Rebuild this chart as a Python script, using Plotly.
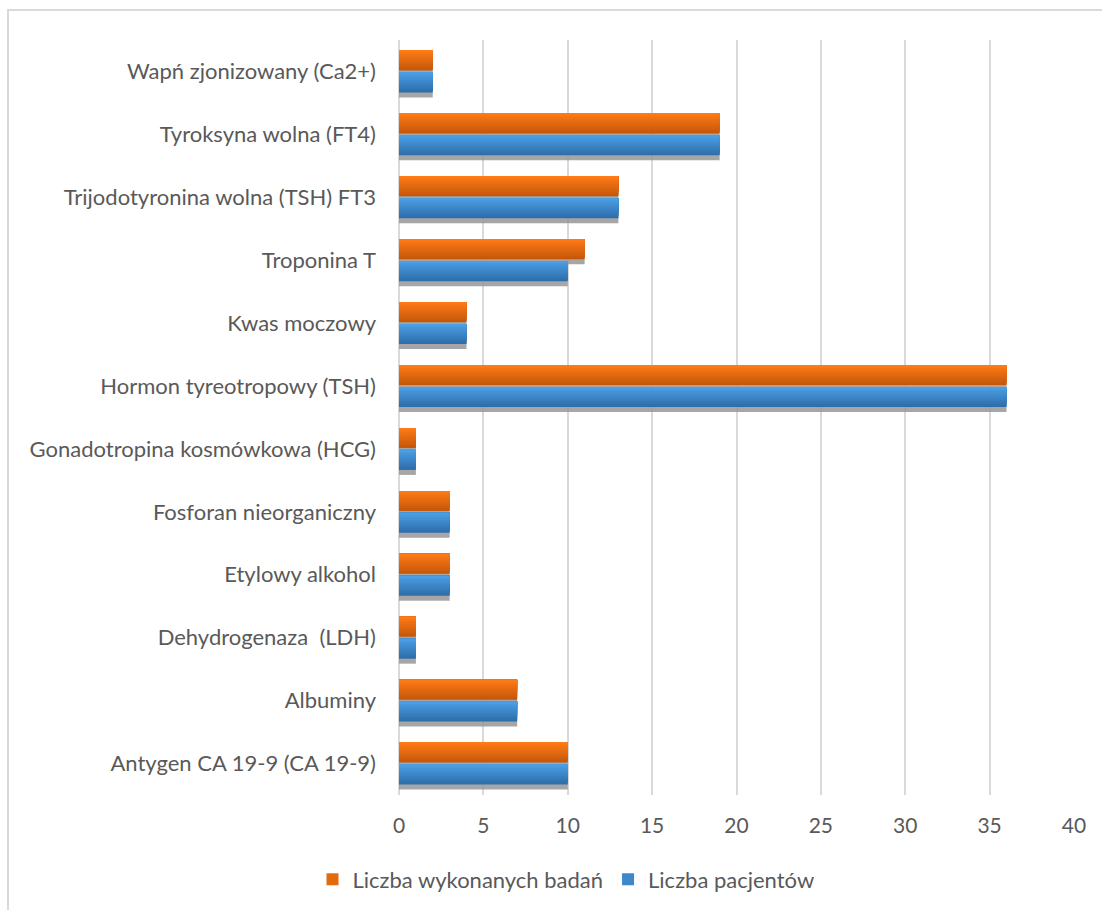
import plotly.graph_objects as go

# Laboratory tests: number of tests performed vs. number of patients
categories = [
    "Antygen CA 19-9 (CA 19-9)",
    "Albuminy",
    "Dehydrogenaza\u00a0 (LDH)",
    "Etylowy alkohol",
    "Fosforan nieorganiczny",
    "Gonadotropina kosmówkowa (HCG)",
    "Hormon tyreotropowy (TSH)",
    "Kwas moczowy",
    "Troponina T",
    "Trijodotyronina wolna (TSH) FT3",
    "Tyroksyna wolna (FT4)",
    "Wapń zjonizowany (Ca2+)",
]
liczba_badan = [10, 7, 1, 3, 3, 1, 36, 4, 11, 13, 19, 2]
liczba_pacjentow = [10, 7, 1, 3, 3, 1, 36, 4, 10, 13, 19, 2]
x_ticks = [0, 5, 10, 15, 20, 25, 30, 35, 40]

# Layout geometry (pixels)
W, H = 1102, 910
M_L, M_R, M_T, M_B = 399, 28, 39.5, 114.5
PLOT_W = W - M_L - M_R
PLOT_H = H - M_T - M_B
STEP = PLOT_H / len(categories)      # pixels per category
BAR = 20 / STEP                       # bar thickness in category units
GAP = 1 / STEP                        # half gap between the two bars
SHADOW_DY = 5 / STEP                  # drop shadow offset

FONT = "Lato, 'Open Sans', sans-serif"
TEXT = "#595959"
GRID = "#D9D9D9"

ORANGE = ((196, 86, 10), (255, 124, 22))    # bottom, top
BLUE = ((45, 108, 168), (76, 159, 230))
SHADOW = "rgba(150,150,150,0.85)"
LAYERS = 14


def mix(c0, c1, t):
    return "rgb(%d,%d,%d)" % tuple(round(a + (b - a) * t) for a, b in zip(c0, c1))


fig = go.Figure()


def add_series(values, name, base, colors):
    bottom, top = colors
    # drop shadow under the bar
    fig.add_trace(go.Bar(
        x=values, y=categories, orientation="h",
        offset=base - SHADOW_DY, width=BAR,
        marker=dict(color=SHADOW, line=dict(width=0)),
        showlegend=False, hoverinfo="skip",
    ))
    # vertical gradient: each layer covers the bar from its level up to the top
    for i in range(LAYERS):
        f = i / LAYERS
        fig.add_trace(go.Bar(
            x=values, y=categories, orientation="h",
            offset=base + f * BAR, width=BAR * (1 - f),
            marker=dict(color=mix(bottom, top, (i + 0.5) / LAYERS), line=dict(width=0)),
            name=name, legendgroup=name,
            showlegend=(i == LAYERS // 2),
            hovertemplate="%{y}: %{x}<extra>" + name + "</extra>",
        ))


add_series(liczba_badan, "Liczba wykonanych badań", GAP, ORANGE)
add_series(liczba_pacjentow, "Liczba pacjentów", -GAP - BAR, BLUE)

# light outer frame around the chart
fig.add_shape(
    type="rect", xref="paper", yref="paper", layer="below",
    x0=(8 - M_L) / PLOT_W, x1=(W + 20 - M_L) / PLOT_W,
    y0=-(H + 20 - M_T - PLOT_H) / PLOT_H, y1=(H - M_B - 9.5) / PLOT_H,
    line=dict(color=GRID, width=2), fillcolor="rgba(0,0,0,0)",
)

fig.update_layout(
    width=W, height=H,
    margin=dict(l=M_L, r=M_R, t=M_T, b=M_B, autoexpand=False),
    paper_bgcolor="white", plot_bgcolor="white",
    barmode="overlay",
    font=dict(family=FONT, size=22, color=TEXT),
    legend=dict(
        orientation="h", x=(566 - M_L) / PLOT_W, xanchor="center",
        y=-(880 - M_T - PLOT_H) / PLOT_H, yanchor="middle",
        font=dict(family=FONT, size=22, color=TEXT),
        traceorder="normal", itemwidth=30,
    ),
    xaxis=dict(
        range=[0, 40], tickvals=x_ticks, showgrid=True, gridcolor=GRID, gridwidth=2,
        zeroline=True, zerolinecolor=GRID, zerolinewidth=2, showline=False,
        ticks="", ticklabelstandoff=16, fixedrange=True,
        tickfont=dict(family=FONT, size=21, color=TEXT),
    ),
    yaxis=dict(
        type="category", categoryorder="array", categoryarray=categories,
        range=[-0.5, len(categories) - 0.5],
        showgrid=False, zeroline=False, showline=False, ticks="",
        ticklabelstandoff=22, fixedrange=True,
    ),
)

fig.write_html("out.html")
